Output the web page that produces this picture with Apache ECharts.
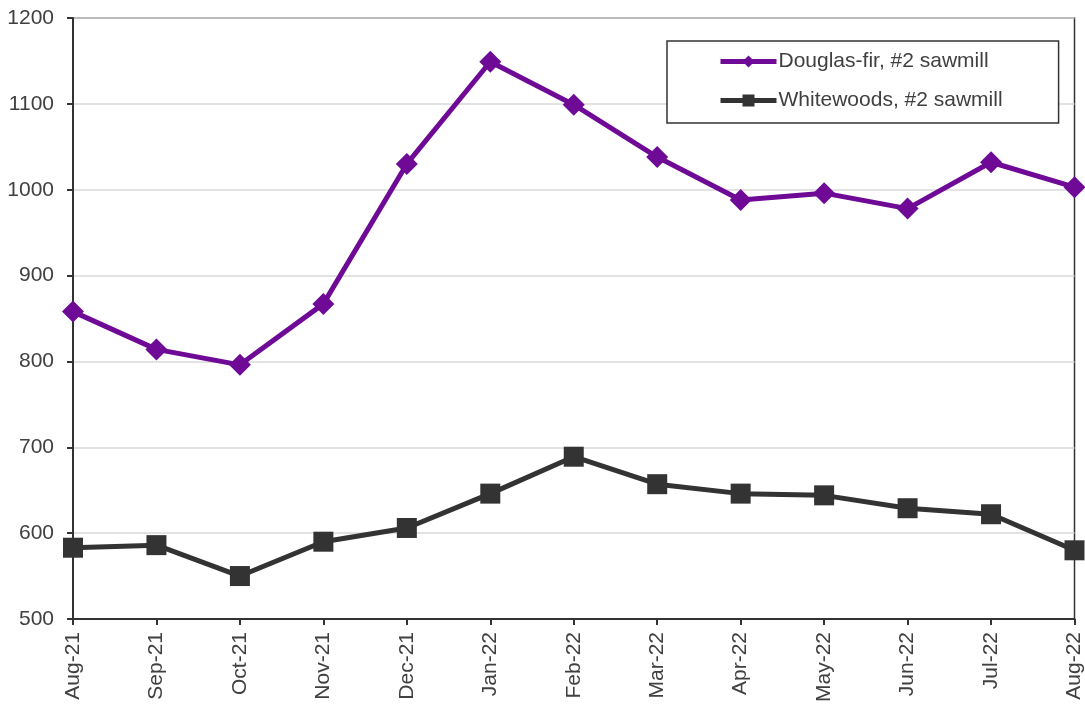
<!DOCTYPE html>
<html>
<head>
<meta charset="utf-8">
<script src="https://cdn.jsdelivr.net/npm/echarts@6/dist/echarts.min.js"></script>
<style>
  html, body { margin: 0; padding: 0; background: #fff; }
  #chart { width: 1085px; height: 705px; }
</style>
</head>
<body>
<div id="chart"></div>
<script>
// Monthly lumber prices, #2 sawmill grade
const months = ['Aug-21', 'Sep-21', 'Oct-21', 'Nov-21', 'Dec-21', 'Jan-22', 'Feb-22',
                'Mar-22', 'Apr-22', 'May-22', 'Jun-22', 'Jul-22', 'Aug-22'];
const douglasFir = [858, 814, 796, 867, 1030, 1149, 1099, 1038, 988, 996, 978, 1032, 1003];
const whitewoods = [583, 586, 550, 590, 606, 646, 689, 657, 646, 644, 629, 622, 580];
const yTicks = { min: 500, max: 1200, step: 100 };

const purple = '#6E0A96';
const charcoal = '#333333';
const textColor = '#404040';
const fontFamily = '"Liberation Sans", Arial, sans-serif';

const chart = echarts.init(document.getElementById('chart'), null, { renderer: 'canvas' });
chart.setOption({
  animation: false,
  backgroundColor: '#ffffff',
  textStyle: { fontFamily: fontFamily },
  grid: {
    left: 73, right: 9, top: 18, bottom: 85,
    show: true, borderColor: charcoal, borderWidth: 1.5
  },
  legend: {
    orient: 'vertical',
    left: 667, top: 41,
    padding: [10, 56, 12, 51],
    itemGap: 18,
    itemWidth: 56,
    itemHeight: 15,
    borderColor: charcoal,
    borderWidth: 1.5,
    backgroundColor: '#ffffff',
    textStyle: { fontSize: 21, color: textColor, padding: [0, 0, 0, -3] },
    data: [
      { name: 'Douglas-fir, #2 sawmill', lineStyle: { width: 5, color: purple } },
      { name: 'Whitewoods, #2 sawmill', lineStyle: { width: 5, color: charcoal } }
    ]
  },
  xAxis: {
    type: 'category',
    data: months,
    boundaryGap: false,
    axisLine: { lineStyle: { color: charcoal, width: 2 } },
    axisTick: { show: true, length: 6, lineStyle: { color: charcoal, width: 2 } },
    axisLabel: { rotate: 90, fontSize: 21, color: textColor, margin: 13, interval: 0 },
    splitLine: { show: false }
  },
  yAxis: {
    type: 'value',
    min: yTicks.min, max: yTicks.max, interval: yTicks.step,
    axisLine: { show: true, lineStyle: { color: charcoal, width: 2 } },
    axisTick: { show: true, length: 6, lineStyle: { color: charcoal, width: 2 } },
    axisLabel: { fontSize: 21, color: textColor, margin: 19, formatter: v => String(v) },
    splitLine: { show: true, lineStyle: { color: '#d9d9d9', width: 1.5 } }
  },
  series: [
    {
      name: 'Douglas-fir, #2 sawmill',
      type: 'line',
      data: douglasFir,
      symbol: 'diamond',
      symbolSize: 22,
      lineStyle: { color: purple, width: 5 },
      itemStyle: { color: purple },
      z: 3
    },
    {
      name: 'Whitewoods, #2 sawmill',
      type: 'line',
      data: whitewoods,
      symbol: 'rect',
      symbolSize: 20,
      lineStyle: { color: charcoal, width: 5 },
      itemStyle: { color: charcoal },
      z: 3
    }
  ]
});
</script>
</body>
</html>
